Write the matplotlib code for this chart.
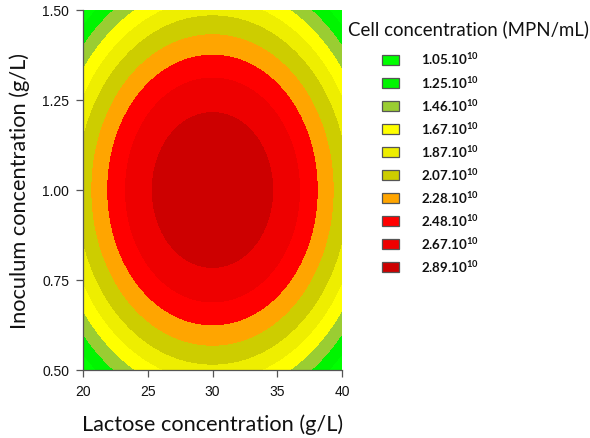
import numpy as np
import matplotlib
matplotlib.use("Agg")
import matplotlib.pyplot as plt
from matplotlib.colors import ListedColormap, BoundaryNorm
from matplotlib.patches import Rectangle

# ---- data -------------------------------------------------------------
x_range = [20, 40]            # lactose concentration (g/L)
y_range = [0.50, 1.50]        # inoculum concentration (g/L)
x_ticks = [20, 25, 30, 35, 40]
y_ticks = [0.50, 0.75, 1.00, 1.25, 1.50]
y_tick_labels = ["0.50", "0.75", "1.00", "1.25", "1.50"]

# fitted response surface (coded variables), values in 1e10 MPN/mL
surf_max = 3.09
surf_x_center = 30.0
surf_y_center = 1.00
surf_x_half = 10.0
surf_y_half = 0.50
coef_x2 = 0.94
coef_y2 = 1.095

levels = [1.05, 1.25, 1.46, 1.67, 1.87, 2.07, 2.28, 2.48, 2.67, 2.89]
level_labels = ["1.05", "1.25", "1.46", "1.67", "1.87", "2.07", "2.28", "2.48", "2.67", "2.89"]
colors = ["#00ff00", "#00f500", "#9acd32", "#ffff00", "#eeee00",
          "#cdcd00", "#ffa500", "#ff0000", "#ee0000", "#cd0000"]

# ---- figure -----------------------------------------------------------
W, H = 590, 439
fig = plt.figure(figsize=(W / 100, H / 100), dpi=100)

def fx(px):
    return px / W

def fy(py):
    return 1 - py / H

ax = fig.add_axes([fx(83), fy(371), fx(342) - fx(83), fy(11) - fy(371)])

xs = np.linspace(x_range[0], x_range[1], 400)
ys = np.linspace(y_range[0], y_range[1], 400)
X, Y = np.meshgrid(xs, ys)
U = (X - surf_x_center) / surf_x_half
V = (Y - surf_y_center) / surf_y_half
Z = surf_max - coef_x2 * U ** 2 - coef_y2 * V ** 2

cmap = ListedColormap(colors[:-1])
cmap.set_over(colors[-1])
cmap.set_under(colors[0])
norm = BoundaryNorm(levels, cmap.N)
cs = ax.contourf(X, Y, Z, levels=levels, cmap=cmap, norm=norm, extend="both")
cs.set_edgecolor("face")
cs.set_linewidth(0.6)

ax.set_xlim(*x_range)
ax.set_ylim(*y_range)
ax.set_xticks(x_ticks)
ax.set_yticks(y_ticks)
ax.set_yticklabels(y_tick_labels)
for s in ["top", "right"]:
    ax.spines[s].set_visible(False)
for s in ["left", "bottom"]:
    ax.spines[s].set_color("#555555")
    ax.spines[s].set_linewidth(0.9)
    ax.spines[s].set_zorder(5)
ax.tick_params(direction="out", length=5, width=0.9, color="#555555",
               labelsize=10, labelcolor="#111111", pad=5)
for lab in ax.get_xticklabels() + ax.get_yticklabels():
    lab.set_fontfamily("Liberation Sans")

label_font = "Lato"
fig.canvas.draw()
renderer = fig.canvas.get_renderer()

def fit(t, target_w):
    w = t.get_window_extent(renderer).width
    t.set_fontsize(t.get_fontsize() * target_w / w)

t_x = fig.text(fx(213), fy(425), "Lactose concentration (g/L)", ha="center",
               va="center", fontsize=14, family=label_font, color="#111111")
fit(t_x, 262)
t_y = fig.text(fx(20), fy(191), "Inoculum concentration (g/L)", ha="center",
               va="center", rotation=90, fontsize=14, family=label_font,
               color="#111111")
fit_h = t_y.get_window_extent(renderer).height
t_y.set_fontsize(t_y.get_fontsize() * 277 / fit_h)

# ---- legend -----------------------------------------------------------
t_title = fig.text(fx(348), fy(29), "Cell concentration (MPN/mL)", ha="left",
                   va="center", fontsize=13, family=label_font, color="#111111")
fit(t_title, 240)

plt.rcParams["mathtext.fontset"] = "custom"
plt.rcParams["mathtext.bf"] = "Lato:bold"
plt.rcParams["mathtext.rm"] = "Lato"

row0 = 60.5
row_step = 23.1
for i, (lab, col) in enumerate(zip(level_labels, colors)):
    cy = row0 + i * row_step
    fig.add_artist(Rectangle((fx(382), fy(cy + 5)), fx(17), 10 / H,
                             transform=fig.transFigure, facecolor=col,
                             edgecolor="#555555", linewidth=0.9))
    fig.text(fx(421), fy(cy), r"$\mathbf{" + lab + r".10^{10}}$", ha="left",
             va="center", fontsize=9.6, color="#111111")

fig.savefig("out.png", dpi=100)
